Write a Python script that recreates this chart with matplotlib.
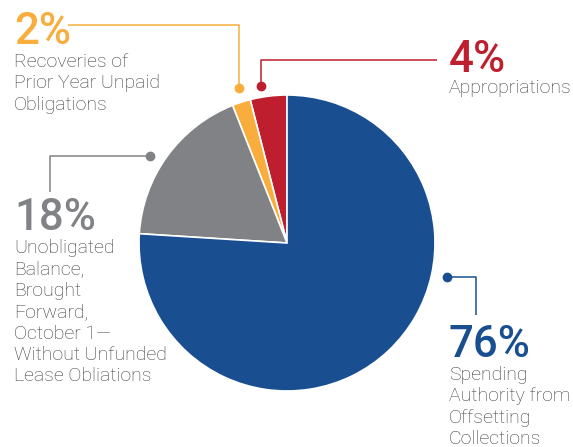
import matplotlib.pyplot as plt

# slice data, in drawing order from the top going counterclockwise
categories = ['Appropriations',
              'Recoveries of Prior Year Unpaid Obligations',
              'Unobligated Balance, Brought Forward, October 1\u2014Without Unfunded Lease Obliations',
              'Spending Authority from Offsetting Collections']
shares = [4, 2, 18, 76]
colors = ['#be1e2d', '#f8ad3d', '#808285', '#194f90']

pct_labels = ['4%', '2%', '18%', '76%']
desc_lines = [
    ['Appropriations'],
    ['Recoveries of', 'Prior Year Unpaid', 'Obligations'],
    ['Unobligated', 'Balance,', 'Brought', 'Forward,', 'October 1\u2014',
     'Without Unfunded', 'Lease Obliations'],
    ['Spending', 'Authority from', 'Offsetting', 'Collections'],
]

W, H = 573, 447
plt.rcParams['font.family'] = ['Roboto', 'DejaVu Sans']

fig = plt.figure(figsize=(W / 100, H / 100), dpi=100)
ax = fig.add_axes([0, 0, 1, 1])

# y axis runs downward, so clockwise in data = counterclockwise on screen
ax.pie(shares, colors=colors, startangle=-90, counterclock=False,
       center=(287, 243), radius=148,
       wedgeprops=dict(edgecolor='white', linewidth=1.2))

ax.set_xlim(0, W)
ax.set_ylim(H, 0)
ax.set_aspect('equal')
ax.axis('off')

# leader lines: (path x, path y), dot at the first point
leaders = [
    ([261, 261, 437], [86, 60, 60]),
    ([239, 239, 68], [88, 25, 25]),
    ([150, 50, 50], [156, 156, 192]),
    ([447, 476, 476], [277, 277, 315]),
]
# text anchors: x, baseline of the percentage, baseline of first text line
anchors = [(449, 72, 93), (14, 44, 67), (14, 230, 253), (449, 357, 380)]
step = 21.4

for i in range(len(shares)):
    lx, ly = leaders[i]
    ax.plot(lx, ly, color=colors[i], linewidth=1.1, solid_capstyle='butt')
    ax.plot(lx[0], ly[0], 'o', color=colors[i], markersize=6)
    x, yp, yt = anchors[i]
    ax.text(x, yp, pct_labels[i], color=colors[i], fontsize=31.5,
            fontweight='medium', ha='left', va='baseline')
    for j, line in enumerate(desc_lines[i]):
        ax.text(x, yt + j * step, line, color='#3d3d3d', fontsize=14,
                fontweight='light', ha='left', va='baseline')

plt.savefig('out.png', dpi=100)
